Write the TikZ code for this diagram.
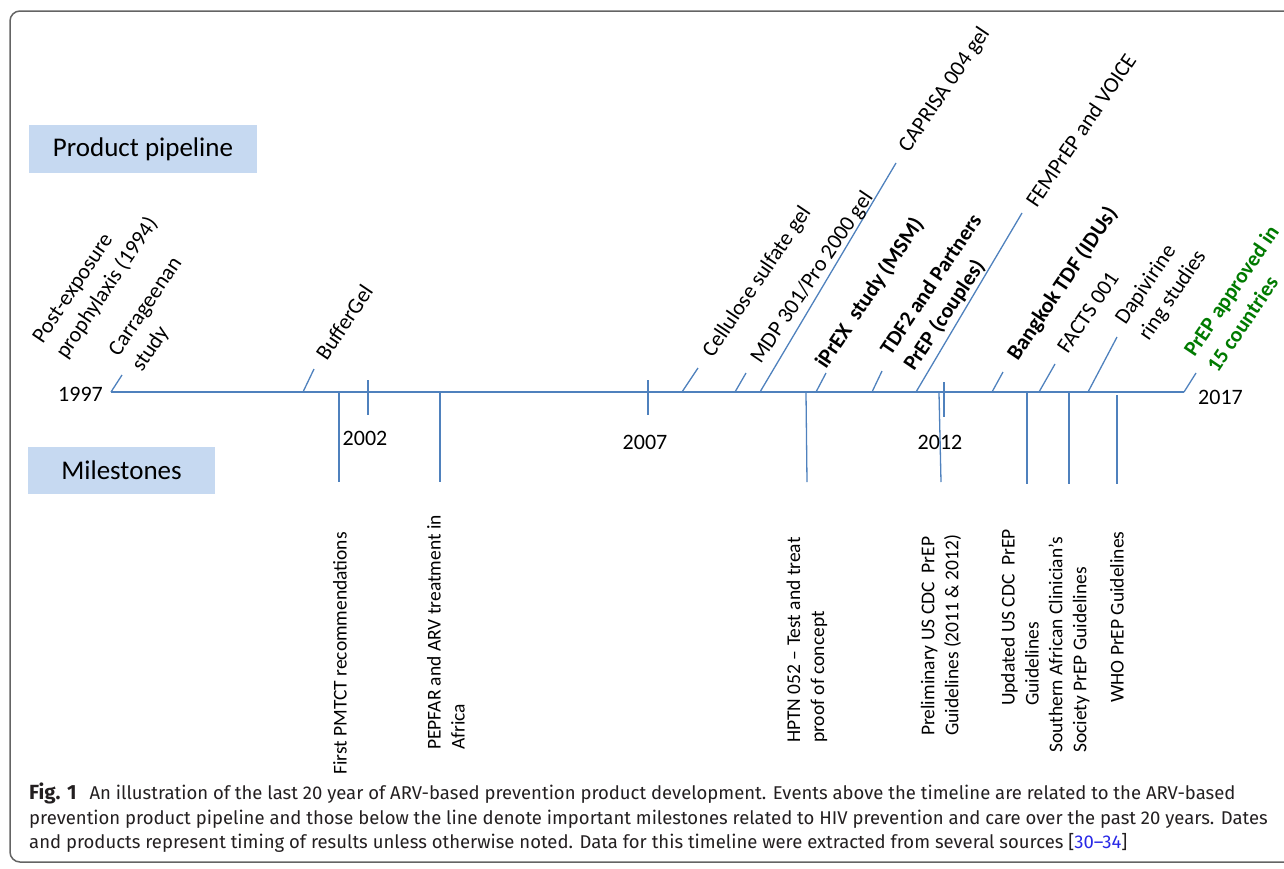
\documentclass[tikz,border=0pt]{standalone}
\usepackage{fontspec}
\setmainfont{Carlito}
\newfontfamily\capfont{Fira Sans}
\definecolor{tl}{RGB}{79,129,189}
\definecolor{boxfill}{RGB}{198,217,241}
\definecolor{grn}{RGB}{0,122,0}
\definecolor{framec}{RGB}{100,100,100}
\definecolor{refblue}{RGB}{40,40,230}
\definecolor{captext}{RGB}{35,31,32}
\tikzset{
  tline/.style={draw=tl, line width=1.3pt},
  uplabel/.style={rotate=56, anchor=south west, inner sep=0pt, align=left, font=\fontsize{22}{28}\selectfont},
  downlabel/.style={rotate=90, anchor=west, inner sep=0pt, align=left, font=\fontsize{19.5}{24}\selectfont},
  yearlabel/.style={font=\fontsize{22}{26}\selectfont, inner sep=0pt},
  hdr/.style={fill=boxfill, font=\fontsize{27}{32}\selectfont, inner sep=0pt},
}
\begin{document}
\begin{tikzpicture}[x=1pt,y=-1pt]
\useasboundingbox (0,0) rectangle (1284,868);
\draw[framec, line width=1.5pt, rounded corners=10pt] (10,11) rectangle (1330,862);

% headers
\node[hdr, minimum width=228pt, minimum height=48pt] (pp) at (143,149) {Product pipeline};
\node[hdr, minimum width=187pt, minimum height=47pt] (ms) at (121.5,470.5) {Milestones};

% main timeline
\coordinate (t0) at (111,392);
\coordinate (t1) at (1184,392);
\draw[tline] (t0) -- (t1);

% year labels and ticks
\node[yearlabel, anchor=east] (y1997) at (103,394) {1997};
\node[yearlabel] (y2002) at (365,438) {2002};
\node[yearlabel] (y2007) at (645,442) {2007};
\node[yearlabel] (y2012) at (940,442) {2012};
\node[yearlabel, anchor=west] (y2017) at (1198,397) {2017};
\coordinate (k2002a) at (368,380); \coordinate (k2002b) at (368,415);
\coordinate (k2007a) at (648,380); \coordinate (k2007b) at (648,415);
\coordinate (k2012a) at (944,382); \coordinate (k2012b) at (944,417);
\draw[tline] (k2002a) -- (k2002b);
\draw[tline] (k2007a) -- (k2007b);
\draw[tline] (k2012a) -- (k2012b);

% product pipeline (above)
\coordinate (u1a) at (111,392);  \coordinate (u1b) at (122,375);
\coordinate (u2a) at (303,392);  \coordinate (u2b) at (314,369);
\coordinate (u3a) at (682,392);  \coordinate (u3b) at (698,368);
\coordinate (u4a) at (735,392);  \coordinate (u4b) at (746,373);
\coordinate (u5a) at (760,392);  \coordinate (u5b) at (896,163);
\coordinate (u6a) at (816,392);  \coordinate (u6b) at (826,373);
\coordinate (u7a) at (872,392);  \coordinate (u7b) at (882,371);
\coordinate (u8a) at (916,392);  \coordinate (u8b) at (1022,213);
\coordinate (u9a) at (992,392);  \coordinate (u9b) at (1003,372);
\coordinate (u10a) at (1039,392); \coordinate (u10b) at (1055,364);
\coordinate (u11a) at (1088,392); \coordinate (u11b) at (1117,337);
\coordinate (u12a) at (1184,392); \coordinate (u12b) at (1196,373);
\foreach \i in {1,...,12} {\draw[tline] (u\i a) -- (u\i b);}

\node[uplabel] (lpost) at (69,362) {Post-exposure\\prophylaxis (1994)};
\node[uplabel] (lcarr) at (145,375) {Carrageenan\\study};
\node[uplabel] (lbuf) at (327,362) {BufferGel};
\node[uplabel] (lcell) at (716,361) {Cellulose sulfate gel};
\node[uplabel] (lmdp) at (764,367) {MDP 301/Pro 2000 gel};
\node[uplabel] (lcap) at (912,156) {CAPRISA 004 gel};
\node[uplabel, font=\fontsize{22}{28}\selectfont\bfseries] (lipr) at (829,372) {iPrEX\ \ study (MSM)};
\node[uplabel, font=\fontsize{21.5}{28}\selectfont\bfseries] (ltdf) at (917,374) {TDF2 and Partners\\PrEP (couples)};
\node[uplabel] (lfem) at (1037,209) {FEMPrEP and VOICE};
\node[uplabel, font=\fontsize{22}{28}\selectfont\bfseries] (lbkk) at (1021,364) {Bangkok TDF (IDUs)};
\node[uplabel] (lfacts) at (1068,355) {FACTS 001};
\node[uplabel] (ldap) at (1152,344) {Dapivirine\\ring studies};
\node[uplabel, font=\fontsize{21.5}{28}\selectfont\bfseries, text=grn] (lprep) at (1218,374) {PrEP approved in\\15 countries};

% milestones (below)
\coordinate (d1a) at (339,393);  \coordinate (d1b) at (339,482);
\coordinate (d2a) at (440,393);  \coordinate (d2b) at (440,482);
\coordinate (d3a) at (806,393);  \coordinate (d3b) at (807,482);
\coordinate (d4a) at (939,393);  \coordinate (d4b) at (941,482);
\coordinate (d5a) at (1027,393); \coordinate (d5b) at (1027,484);
\coordinate (d6a) at (1069,393); \coordinate (d6b) at (1069,484);
\coordinate (d7a) at (1117,395); \coordinate (d7b) at (1117,484);
\foreach \i in {1,...,7} {\draw[tline] (d\i a) -- (d\i b);}

\node[downlabel] (mpm) at (340,775) {First PMTCT recommendations};
\node[downlabel] (mpep) at (446,750) {PEPFAR and ARV treatment in\\Africa};
\node[downlabel] (mhptn) at (807,743) {HPTN 052 – Test and treat\\proof of concept};
\node[downlabel] (mpre) at (941,736) {Preliminary US CDC\ \ PrEP\\Guidelines (2011 \& 2012)};
\node[downlabel] (mupd) at (1020,706) {Updated US CDC\ \ PrEP\\Guidelines};
\node[downlabel] (msou) at (1069,753) {Southern African Clinician’s\\Society PrEP Guidelines};
\node[downlabel] (mwho) at (1117,703) {WHO PrEP Guidelines};

% caption
\node[anchor=north west, inner sep=0pt, align=left, text=captext, font=\capfont\fontsize{18.5}{24.5}\selectfont] (cap) at (29,783)
{{\fontsize{20.5}{24.5}\selectfont\textbf{Fig. 1}}\hspace{13pt}An illustration of the last 20 year of ARV-based prevention product development. Events above the timeline are related to the ARV-based\\
prevention product pipeline and those below the line denote important milestones related to HIV prevention and care over the past 20 years. Dates\\
and products represent timing of results unless otherwise noted. Data for this timeline were extracted from several sources [\textcolor{refblue}{30–34}]};
\end{tikzpicture}
\end{document}
